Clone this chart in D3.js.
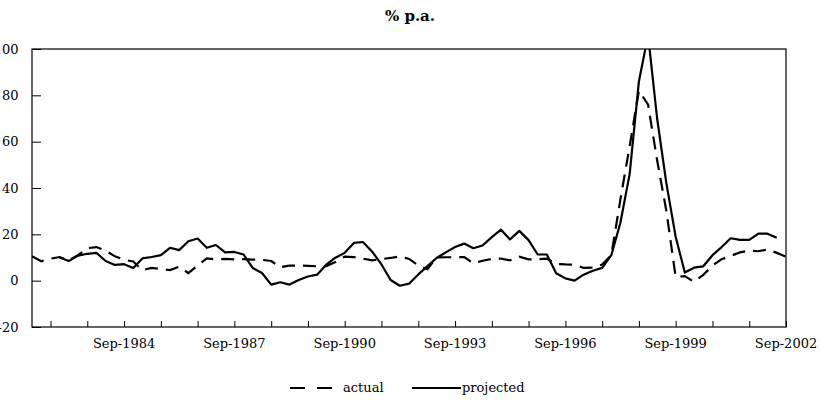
<!DOCTYPE html>
<html>
<head>
<meta charset="utf-8">
<script src="https://cdn.jsdelivr.net/npm/d3@7"></script>
<style>
  body { margin: 0; background: #fff; }
  svg { display: block; font-family: "DejaVu Serif", serif; }
</style>
</head>
<body>
<div id="chart"></div>
<script>
// Quarterly observations, Mar-1982 to Sep-2002
var startQuarter = new Date(1982, 2, 1);
var endQuarter = new Date(2002, 8, 1);

var actual = [
  10.5, 8.4, 9.5, 10.2, 8.7, 11, 14, 14.5, 13, 10.5,
  9, 8.3, 4.5, 5.5, 5, 4.6, 6, 3.3, 6.5, 9.6,
  9.2, 9.4, 9.2, 9.3, 9.1, 9, 8.5, 5.8, 6.5, 6.5,
  6.4, 6.2, 6.3, 8, 10.4, 10.2, 9.5, 8.8, 9.3, 9.8,
  10.5, 9.4, 6.5, 5, 10, 10.1, 10.1, 10.2, 7.5, 8.6,
  9.4, 9.5, 8.8, 10.4, 9.2, 9.2, 9.5, 7.2, 7, 6.9,
  5.5, 5.6, 7, 11, 35, 58, 82, 76, 52, 30,
  1.6, 2, -0.5, 2.5, 6.5, 9.3, 10.7, 12.2, 13, 12.7,
  13.5, 12, 10.3
];

var projected = [
  null, null, null, 10, 8.5, 10.8, 11.6, 12, 8.5, 6.8,
  7.1, 5.5, 9.6, 10.2, 11, 14.2, 13.2, 17, 18.2, 14.2,
  15.4, 12.2, 12.4, 11.3, 5.5, 3.3, -1.7, -0.7, -1.7, 0.3,
  1.8, 2.6, 6.9, 9.9, 12, 16.3, 16.7, 12.5, 7, 0.3,
  -2.2, -1.3, 2.7, 6.3, 9.8, 12.2, 14.5, 16, 14, 15.2,
  18.8, 22, 17.8, 21.5, 17.5, 11.3, 11.3, 3.2, 1, 0,
  2.6, 4.3, 5.5, 11, 25, 46, 86, 106, 70, 42,
  19, 3.5, 5.6, 6.2, 11, 14.5, 18.3, 17.6, 17.6, 20.3,
  20.3, 18.5, null
];

var yTicks = [-20, 0, 20, 40, 60, 80, 100];
var labelYears = [1984, 1987, 1990, 1993, 1996, 1999, 2002];

var quarters = actual.map(function(d, i) { return d3.timeMonth.offset(startQuarter, 3 * i); });

// Dimensions
var W = 820, H = 402;
var plot = {left: 32, top: 49, right: 786, bottom: 327};

var svg = d3.select("#chart").append("svg")
    .attr("width", W)
    .attr("height", H);

// Scales
var x = d3.scaleTime().domain([startQuarter, endQuarter]).range([plot.left, plot.right]);
var y = d3.scaleLinear().domain([-20, 100]).range([plot.bottom, plot.top]);

// Title
svg.append("text")
    .attr("x", W / 2)
    .attr("y", 21)
    .attr("text-anchor", "middle")
    .attr("font-size", "15px")
    .attr("font-weight", "bold")
    .text("% p.a.");

// Y axis, ticks pointing into the plot
var yAxis = svg.append("g")
    .attr("transform", "translate(" + plot.left + ",0)")
    .call(d3.axisRight(y).tickValues(yTicks).tickSize(9).tickFormat(function(d) { return String(d); }));
yAxis.select(".domain").remove();
yAxis.selectAll("line").attr("stroke", "#000");
yAxis.selectAll("text")
    .attr("x", -13.5)
    .attr("text-anchor", "end")
    .attr("font-size", "13px")
    .attr("font-family", "DejaVu Serif, serif")
    .attr("fill", "#000");

// X axis, one tick per September, label every third year
var sepTicks = d3.range(1982, 2003).map(function(yr) { return new Date(yr, 8, 1); });
var xAxis = svg.append("g")
    .attr("transform", "translate(0," + plot.bottom + ")")
    .call(d3.axisTop(x).tickValues(sepTicks).tickSize(6).tickFormat(""));
xAxis.select(".domain").remove();
xAxis.selectAll("line").attr("stroke", "#000");

svg.append("g").selectAll("text")
    .data(labelYears)
    .join("text")
    .attr("x", function(d) { return x(new Date(d, 8, 1)); })
    .attr("y", plot.bottom + 21)
    .attr("text-anchor", "middle")
    .attr("font-size", "13px")
    .text(function(d) { return d3.timeFormat("%b-%Y")(new Date(d, 8, 1)); });

// Plot frame
svg.append("rect")
    .attr("x", plot.left)
    .attr("y", plot.top)
    .attr("width", plot.right - plot.left)
    .attr("height", plot.bottom - plot.top)
    .attr("fill", "none")
    .attr("stroke", "#000")
    .attr("stroke-width", 1.2);

// Clip lines to the plot area
svg.append("clipPath").attr("id", "plot-clip")
    .append("rect")
    .attr("x", plot.left)
    .attr("y", plot.top)
    .attr("width", plot.right - plot.left)
    .attr("height", plot.bottom - plot.top);

var line = d3.line()
    .defined(function(d) { return d != null; })
    .x(function(d, i) { return x(quarters[i]); })
    .y(function(d) { return y(d); });

var lines = svg.append("g").attr("clip-path", "url(#plot-clip)");

lines.append("path")
    .datum(actual)
    .attr("d", line)
    .attr("fill", "none")
    .attr("stroke", "#000")
    .attr("stroke-width", 2.2)
    .attr("stroke-dasharray", "13,8");

lines.append("path")
    .datum(projected)
    .attr("d", line)
    .attr("fill", "none")
    .attr("stroke", "#000")
    .attr("stroke-width", 2.2)
    .attr("stroke-linejoin", "round");

// Legend
var legend = svg.append("g");
legend.append("line")
    .attr("x1", 290).attr("x2", 332)
    .attr("y1", 388).attr("y2", 388)
    .attr("stroke", "#000")
    .attr("stroke-width", 2.2)
    .attr("stroke-dasharray", "15,12");
legend.append("text")
    .attr("x", 343).attr("y", 392)
    .attr("font-size", "13px")
    .text("actual");
legend.append("line")
    .attr("x1", 412).attr("x2", 461)
    .attr("y1", 388).attr("y2", 388)
    .attr("stroke", "#000")
    .attr("stroke-width", 2.2);
legend.append("text")
    .attr("x", 462).attr("y", 392)
    .attr("font-size", "13px")
    .text("projected");
</script>
</body>
</html>
